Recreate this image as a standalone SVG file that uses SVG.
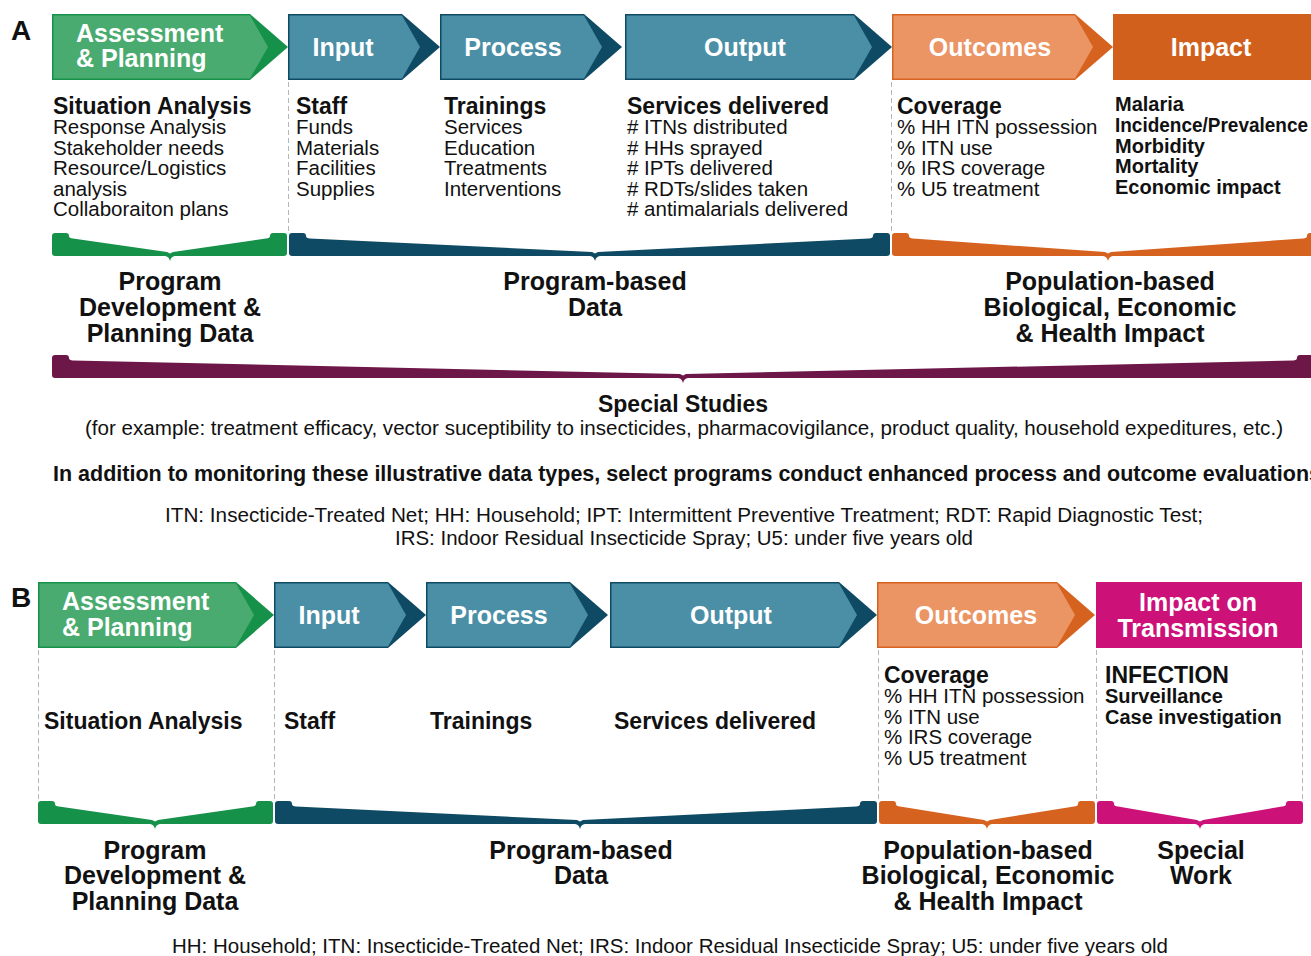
<svg xmlns="http://www.w3.org/2000/svg" width="1311" height="956" viewBox="0 0 1311 956">
<style>
text{font-family:"Liberation Sans",Arial,sans-serif;fill:#111}
.lbl{font-size:28px;font-weight:bold}
.hd{font-size:25px;font-weight:bold;fill:#fff}
.h{font-size:23px;font-weight:bold}
.r{font-size:20.5px}
.b{font-size:20px;font-weight:bold}
.bl{font-size:25px;font-weight:bold;text-anchor:middle}
.c{text-anchor:middle}
.dash{stroke:#b5b5b5;stroke-width:1;stroke-dasharray:5 3;fill:none}
.gD{fill:#16914a}.gL{fill:#4aab70}
.tD{fill:#0e4a63}.tL{fill:#4b8fa7}
.oD{fill:#d6621f}.oL{fill:#eb9464}
</style>

<text class="lbl" x="11" y="40">A</text>
<text class="lbl" x="11" y="607">B</text>

<g id="connectors">
<line class="dash" x1="288.5" y1="82" x2="288.5" y2="232"/>
<line class="dash" x1="891.5" y1="82" x2="891.5" y2="232"/>
<line class="dash" x1="38.5" y1="650" x2="38.5" y2="800"/>
<line class="dash" x1="274.5" y1="650" x2="274.5" y2="800"/>
<line class="dash" x1="878.5" y1="650" x2="878.5" y2="800"/>
<line class="dash" x1="1096.5" y1="650" x2="1096.5" y2="800"/>
<line class="dash" x1="1302.5" y1="650" x2="1302.5" y2="800"/>
</g>

<!-- Panel A headers -->
<g id="a-assessment">
<polygon class="gD" points="52,14 250,14 288,47 250,80 52,80"/>
<polygon class="gL" points="53.5,15.5 250,15.5 268,47 250,78.5 53.5,78.5"/>
<text class="hd" x="76" y="42">Assessment</text>
<text class="hd" x="76" y="67">&amp; Planning</text>
</g>
<g id="a-input">
<polygon class="tD" points="288,14 402,14 440,47 402,80 288,80"/>
<polygon class="tL" points="289.5,15.5 402,15.5 420,47 402,78.5 289.5,78.5"/>
<text class="hd c" x="343" y="56">Input</text>
</g>
<g id="a-process">
<polygon class="tD" points="440,14 584,14 622,47 584,80 440,80"/>
<polygon class="tL" points="441.5,15.5 584,15.5 602,47 584,78.5 441.5,78.5"/>
<text class="hd c" x="513" y="56">Process</text>
</g>
<g id="a-output">
<polygon class="tD" points="625,14 854,14 892,47 854,80 625,80"/>
<polygon class="tL" points="626.5,15.5 854,15.5 872,47 854,78.5 626.5,78.5"/>
<text class="hd c" x="745" y="56">Output</text>
</g>
<g id="a-outcomes">
<polygon class="oD" points="892,14 1075,14 1113,47 1075,80 892,80"/>
<polygon class="oL" points="893.5,15.5 1075,15.5 1093,47 1075,78.5 893.5,78.5"/>
<text class="hd c" x="990" y="56">Outcomes</text>
</g>
<g id="a-impact">
<rect x="1113" y="14" width="210" height="66" fill="#d1601c"/>
<text class="hd c" x="1211" y="56">Impact</text>
</g>

<!-- Panel A details -->
<g id="a-col1">
<text class="h" x="53" y="114">Situation Analysis</text>
<text class="r" x="53" y="134">Response Analysis</text>
<text class="r" x="53" y="155">Stakeholder needs</text>
<text class="r" x="53" y="175">Resource/Logistics</text>
<text class="r" x="53" y="196">analysis</text>
<text class="r" x="53" y="216">Collaboraiton plans</text>
</g>
<g id="a-col2">
<text class="h" x="296" y="114">Staff</text>
<text class="r" x="296" y="134">Funds</text>
<text class="r" x="296" y="155">Materials</text>
<text class="r" x="296" y="175">Facilities</text>
<text class="r" x="296" y="196">Supplies</text>
</g>
<g id="a-col3">
<text class="h" x="444" y="114">Trainings</text>
<text class="r" x="444" y="134">Services</text>
<text class="r" x="444" y="155">Education</text>
<text class="r" x="444" y="175">Treatments</text>
<text class="r" x="444" y="196">Interventions</text>
</g>
<g id="a-col4">
<text class="h" x="627" y="114">Services delivered</text>
<text class="r" x="627" y="134"># ITNs distributed</text>
<text class="r" x="627" y="155"># HHs sprayed</text>
<text class="r" x="627" y="175"># IPTs delivered</text>
<text class="r" x="627" y="196"># RDTs/slides taken</text>
<text class="r" x="627" y="216"># antimalarials delivered</text>
</g>
<g id="a-col5">
<text class="h" x="897" y="114">Coverage</text>
<text class="r" x="897" y="134">% HH ITN possession</text>
<text class="r" x="897" y="155">% ITN use</text>
<text class="r" x="897" y="175">% IRS coverage</text>
<text class="r" x="897" y="196">% U5 treatment</text>
</g>
<g id="a-col6">
<text class="b" x="1115" y="111">Malaria</text>
<text class="b" x="1115" y="132" textLength="193" lengthAdjust="spacingAndGlyphs">Incidence/Prevalence</text>
<text class="b" x="1115" y="153">Morbidity</text>
<text class="b" x="1115" y="173">Mortality</text>
<text class="b" x="1115" y="194">Economic impact</text>
</g>

<!-- Panel A braces -->
<g id="a-brace-program-dev">
<path fill="#16914a" d="M55,233 L66,233 Q69,233 69,236 Q69,238 73,238.5 L167,252 L170,253.5 L173,252 L266,238.5 Q270,238 270,236 Q270,233 273,233 L284,233 Q287,233 287,236 L287,253 Q287,256 284,256 L175,256 Q171,256.5 170,261 Q169,256.5 165,256 L55,256 Q52,256 52,253 L52,236 Q52,233 55,233 Z"/>
<text class="bl" x="170" y="290">Program</text>
<text class="bl" x="170" y="316">Development &amp;</text>
<text class="bl" x="170" y="342">Planning Data</text>
</g>
<g id="a-brace-program-based">
<path fill="#0e4a63" d="M292,233 L303,233 Q306,233 306,236 Q306,238 310,238.5 L592,252 L595,253.5 L598,252 L869,238.5 Q873,238 873,236 Q873,233 876,233 L887,233 Q890,233 890,236 L890,253 Q890,256 887,256 L600,256 Q596,256.5 595,261 Q594,256.5 590,256 L292,256 Q289,256 289,253 L289,236 Q289,233 292,233 Z"/>
<text class="bl" x="595" y="290">Program-based</text>
<text class="bl" x="595" y="316">Data</text>
</g>
<g id="a-brace-population">
<path fill="#d6621f" d="M895,233 L906,233 Q909,233 909,236 Q909,238 913,238.5 L1105,252 L1108,253.5 L1111,252 L1303,238.5 Q1307,238 1307,236 Q1307,233 1310,233 L1321,233 Q1324,233 1324,236 L1324,253 Q1324,256 1321,256 L1113,256 Q1109,256.5 1108,261 Q1107,256.5 1103,256 L895,256 Q892,256 892,253 L892,236 Q892,233 895,233 Z"/>
<text class="bl" x="1110" y="290">Population-based</text>
<text class="bl" x="1110" y="316">Biological, Economic</text>
<text class="bl" x="1110" y="342">&amp; Health Impact</text>
</g>
<g id="a-brace-special">
<path fill="#6d1748" d="M55,355 L66,355 Q69,355 69,358 Q69,360 73,360.5 L680,374 L683,375.5 L686,374 L1293,360.5 Q1297,360 1297,358 Q1297,355 1300,355 L1311,355 Q1314,355 1314,358 L1314,375 Q1314,378 1311,378 L688,378 Q684,378.5 683,383 Q682,378.5 678,378 L55,378 Q52,378 52,375 L52,358 Q52,355 55,355 Z"/>
<text class="h c" x="683" y="412">Special Studies</text>
<text class="r" x="85" y="435" textLength="1198" lengthAdjust="spacingAndGlyphs">(for example: treatment efficacy, vector suceptibility to insecticides, pharmacovigilance, product quality, household expeditures, etc.)</text>
</g>

<g id="a-notes">
<text x="53" y="481" font-size="22" font-weight="bold" textLength="1268" lengthAdjust="spacingAndGlyphs">In addition to monitoring these illustrative data types, select programs conduct enhanced process and outcome evaluations</text>
<text x="165" y="522" font-size="19.5" textLength="1038" lengthAdjust="spacingAndGlyphs">ITN: Insecticide-Treated Net; HH: Household; IPT: Intermittent Preventive Treatment; RDT: Rapid Diagnostic Test;</text>
<text x="395" y="545" font-size="19.5" textLength="578" lengthAdjust="spacingAndGlyphs">IRS: Indoor Residual Insecticide Spray; U5: under five years old</text>
</g>

<!-- Panel B headers -->
<g id="b-assessment">
<polygon class="gD" points="38,582 236,582 274,615 236,648 38,648"/>
<polygon class="gL" points="39.5,583.5 236,583.5 254,615 236,646.5 39.5,646.5"/>
<text class="hd" x="62" y="610">Assessment</text>
<text class="hd" x="62" y="636">&amp; Planning</text>
</g>
<g id="b-input">
<polygon class="tD" points="274,582 388,582 426,615 388,648 274,648"/>
<polygon class="tL" points="275.5,583.5 388,583.5 406,615 388,646.5 275.5,646.5"/>
<text class="hd c" x="329" y="624">Input</text>
</g>
<g id="b-process">
<polygon class="tD" points="426,582 570,582 608,615 570,648 426,648"/>
<polygon class="tL" points="427.5,583.5 570,583.5 588,615 570,646.5 427.5,646.5"/>
<text class="hd c" x="499" y="624">Process</text>
</g>
<g id="b-output">
<polygon class="tD" points="610,582 839,582 877,615 839,648 610,648"/>
<polygon class="tL" points="611.5,583.5 839,583.5 857,615 839,646.5 611.5,646.5"/>
<text class="hd c" x="731" y="624">Output</text>
</g>
<g id="b-outcomes">
<polygon class="oD" points="877,582 1057,582 1095,615 1057,648 877,648"/>
<polygon class="oL" points="878.5,583.5 1057,583.5 1075,615 1057,646.5 878.5,646.5"/>
<text class="hd c" x="976" y="624">Outcomes</text>
</g>
<g id="b-impact">
<rect x="1096" y="582" width="206" height="66" fill="#cc1279"/>
<text class="hd c" x="1198" y="611">Impact on</text>
<text class="hd c" x="1198" y="637">Transmission</text>
</g>

<!-- Panel B details -->
<g id="b-col1"><text class="h" x="44" y="729">Situation Analysis</text></g>
<g id="b-col2"><text class="h" x="284" y="729">Staff</text></g>
<g id="b-col3"><text class="h" x="430" y="729">Trainings</text></g>
<g id="b-col4"><text class="h" x="614" y="729">Services delivered</text></g>
<g id="b-col5">
<text class="h" x="884" y="683">Coverage</text>
<text class="r" x="884" y="703">% HH ITN possession</text>
<text class="r" x="884" y="724">% ITN use</text>
<text class="r" x="884" y="744">% IRS coverage</text>
<text class="r" x="884" y="765">% U5 treatment</text>
</g>
<g id="b-col6">
<text class="h" x="1105" y="683">INFECTION</text>
<text class="b" x="1105" y="703">Surveillance</text>
<text class="b" x="1105" y="724">Case investigation</text>
</g>

<!-- Panel B braces -->
<g id="b-brace-program-dev">
<path fill="#16914a" d="M41,801 L52,801 Q55,801 55,804 Q55,806 59,806.5 L152,820 L155,821.5 L158,820 L252,806.5 Q256,806 256,804 Q256,801 259,801 L270,801 Q273,801 273,804 L273,821 Q273,824 270,824 L160,824 Q156,824.5 155,829 Q154,824.5 150,824 L41,824 Q38,824 38,821 L38,804 Q38,801 41,801 Z"/>
<text class="bl" x="155" y="859">Program</text>
<text class="bl" x="155" y="884">Development &amp;</text>
<text class="bl" x="155" y="910">Planning Data</text>
</g>
<g id="b-brace-program-based">
<path fill="#0e4a63" d="M278,801 L289,801 Q292,801 292,804 Q292,806 296,806.5 L577,820 L580,821.5 L583,820 L856,806.5 Q860,806 860,804 Q860,801 863,801 L874,801 Q877,801 877,804 L877,821 Q877,824 874,824 L585,824 Q581,824.5 580,829 Q579,824.5 575,824 L278,824 Q275,824 275,821 L275,804 Q275,801 278,801 Z"/>
<text class="bl" x="581" y="859">Program-based</text>
<text class="bl" x="581" y="884">Data</text>
</g>
<g id="b-brace-population">
<path fill="#d6621f" d="M882,801 L893,801 Q896,801 896,804 Q896,806 900,806.5 L984,820 L987,821.5 L990,820 L1074,806.5 Q1078,806 1078,804 Q1078,801 1081,801 L1092,801 Q1095,801 1095,804 L1095,821 Q1095,824 1092,824 L992,824 Q988,824.5 987,829 Q986,824.5 982,824 L882,824 Q879,824 879,821 L879,804 Q879,801 882,801 Z"/>
<text class="bl" x="988" y="859">Population-based</text>
<text class="bl" x="988" y="884">Biological, Economic</text>
<text class="bl" x="988" y="910">&amp; Health Impact</text>
</g>
<g id="b-brace-special">
<path fill="#cc1279" d="M1100,801 L1111,801 Q1114,801 1114,804 Q1114,806 1118,806.5 L1197,820 L1200,821.5 L1203,820 L1282,806.5 Q1286,806 1286,804 Q1286,801 1289,801 L1300,801 Q1303,801 1303,804 L1303,821 Q1303,824 1300,824 L1205,824 Q1201,824.5 1200,829 Q1199,824.5 1195,824 L1100,824 Q1097,824 1097,821 L1097,804 Q1097,801 1100,801 Z"/>
<text class="bl" x="1201" y="859">Special</text>
<text class="bl" x="1201" y="884">Work</text>
</g>

<g id="b-notes">
<text x="172" y="953" font-size="19.5" textLength="996" lengthAdjust="spacingAndGlyphs">HH: Household; ITN: Insecticide-Treated Net; IRS: Indoor Residual Insecticide Spray; U5: under five years old</text>
</g>
</svg>
